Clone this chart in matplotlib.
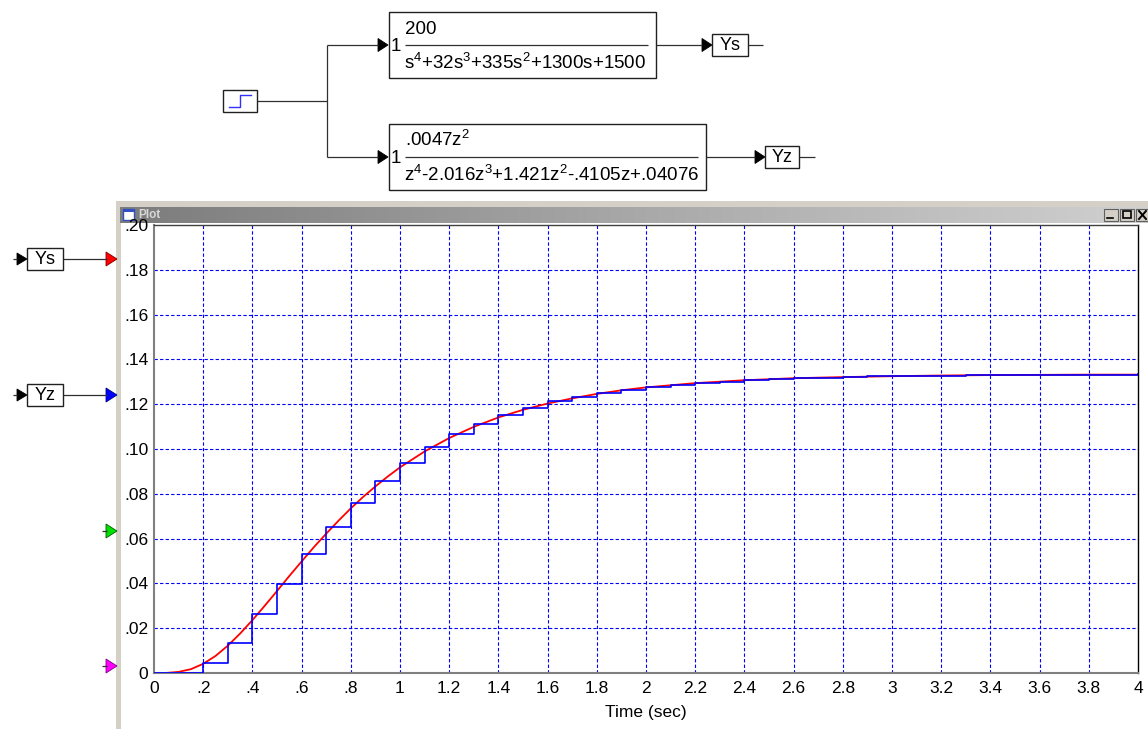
import numpy as np
import matplotlib
matplotlib.use("Agg")
import matplotlib.pyplot as plt
from matplotlib.patches import Rectangle, Polygon
from matplotlib.colors import LinearSegmentedColormap

plt.rcParams['font.family'] = ['Liberation Sans', 'DejaVu Sans']
plt.rcParams['mathtext.fontset'] = 'custom'
plt.rcParams['mathtext.rm'] = 'Liberation Sans'
plt.rcParams['mathtext.it'] = 'Liberation Sans:italic'

# continuous response Ys
t_s = [0.0, 0.05, 0.1, 0.15, 0.2, 0.25, 0.3, 0.35, 0.4, 0.45, 0.5, 0.55, 0.6, 0.65,
       0.7, 0.75, 0.8, 0.85, 0.9, 0.95, 1.0, 1.1, 1.2, 1.3, 1.4, 1.5, 1.6, 1.7,
       1.8, 1.9, 2.0, 2.2, 2.4, 2.6, 2.8, 3.0, 3.2, 3.4, 3.6, 3.8, 4.0]
ys = [0.0, 0.00003, 0.0005, 0.0017, 0.0041, 0.0076, 0.0122, 0.0176, 0.0236, 0.0300,
      0.0366, 0.0433, 0.0498, 0.0562, 0.0622, 0.0680, 0.0735, 0.0786, 0.0833, 0.0877,
      0.0918, 0.0989, 0.1049, 0.1099, 0.1141, 0.1175, 0.1203, 0.1226, 0.1246, 0.1262,
      0.1275, 0.1294, 0.1307, 0.1316, 0.1321, 0.1325, 0.1328, 0.1330, 0.1331, 0.1332, 0.1332]

# discrete response Yz, one sample every 0.1 s
t_z = np.round(np.arange(0, 4.01, 0.1), 1)
yz = [0.0, 0.0, 0.0043, 0.0135, 0.0262, 0.0397, 0.0531, 0.0653, 0.0760, 0.0858,
      0.0939, 0.1009, 0.1066, 0.1110, 0.1152, 0.1184, 0.1214, 0.1234, 0.1249, 0.1263,
      0.1278, 0.1286, 0.1293, 0.1300, 0.1306, 0.1311, 0.1315, 0.1318, 0.1321, 0.1324,
      0.1326, 0.1327, 0.1328, 0.1329, 0.1330, 0.1331, 0.1331, 0.1332, 0.1332, 0.1332, 0.1333]

x_ticks = [0, .2, .4, .6, .8, 1, 1.2, 1.4, 1.6, 1.8, 2, 2.2, 2.4, 2.6, 2.8, 3, 3.2,
           3.4, 3.6, 3.8, 4]
x_labels = ['0', '.2', '.4', '.6', '.8', '1', '1.2', '1.4', '1.6', '1.8', '2', '2.2',
            '2.4', '2.6', '2.8', '3', '3.2', '3.4', '3.6', '3.8', '4']
y_ticks = [0, .02, .04, .06, .08, .10, .12, .14, .16, .18, .20]
y_labels = ['0', '.02', '.04', '.06', '.08', '.10', '.12', '.14', '.16', '.18', '.20']

W, H = 1148, 729
fig = plt.figure(figsize=(W / 100, H / 100), dpi=100)
fig.patch.set_facecolor('white')

# overlay in pixel coords for the block diagram and window chrome
ov = fig.add_axes([0, 0, 1, 1], zorder=0)
ov.set_xlim(0, W)
ov.set_ylim(H, 0)
ov.axis('off')


def box(x0, y0, x1, y1, lw=1.0):
    ov.add_patch(Rectangle((x0, y0), x1 - x0, y1 - y0, fill=False, ec='#202020', lw=lw))


def line(xs, ys_, c='#303030', lw=0.9):
    ov.plot(xs, ys_, color=c, lw=lw, solid_capstyle='butt')


def tri(x0, y, c='black', w=10, h=13, ec=None):
    ov.add_patch(Polygon([(x0, y - h / 2), (x0 + w, y), (x0, y + h / 2)], closed=True,
                         fc=c, ec=ec if ec else c, lw=0.6))


fs = 12.5
fd = 13.5
# step source block
box(223, 90, 257, 112)
ov.plot([229, 240, 240, 251], [107, 107, 95, 95], color='#3030ff', lw=1.0)
line([257, 327], [101, 101])
line([327, 327], [45, 157])
line([327, 378], [45, 45])
line([327, 378], [157, 157])

# continuous transfer function
tri(378, 45)
box(389, 12, 656, 78)
ov.text(391, 46, '1', fontsize=fd, va='center', ha='left')
line([405, 648], [45, 45], lw=0.9)
ov.text(405, 29, '200', fontsize=fd, va='center', ha='left')
ov.text(404, 63, 's$^4$+32s$^3$+335s$^2$+1300s+1500', fontsize=fd, va='center', ha='left')
line([656, 702], [45, 45])
tri(702, 45)
box(712, 34, 748, 56)
ov.text(730, 45, 'Ys', fontsize=13, va='center', ha='center')
line([748, 763], [45, 45])

# discrete transfer function
tri(378, 157)
box(389, 124, 706, 190)
ov.text(391, 158, '1', fontsize=fd, va='center', ha='left')
line([405, 698], [157, 157], lw=0.9)
ov.text(405, 140, '.0047z$^2$', fontsize=fd, va='center', ha='left')
ov.text(404, 175, 'z$^4$-2.016z$^3$+1.421z$^2$-.4105z+.04076', fontsize=fd,
        va='center', ha='left')
line([706, 755], [157, 157])
tri(755, 157)
box(765, 146, 799, 168)
ov.text(782, 157, 'Yz', fontsize=13, va='center', ha='center')
line([799, 815], [157, 157])

# plot window chrome
ov.add_patch(Rectangle((116, 201), W - 116, H - 201, fc='#d4d0c8', ec='none'))
ov.add_patch(Rectangle((121, 223), W - 121, H - 223, fc='white', ec='none'))
cm = LinearSegmentedColormap.from_list('tb', ['#7c7c7c', '#a8a8a8', '#d0d0d0'])
ov.imshow(np.linspace(0, 1, 256)[None, :], extent=(120, W, 223, 207), cmap=cm,
          aspect='auto', zorder=1)
ov.set_xlim(0, W)
ov.set_ylim(H, 0)
ov.add_patch(Rectangle((123, 209), 11, 11, fc='white', ec='#3050c0', lw=1.0, zorder=2))
ov.add_patch(Rectangle((123, 209), 11, 2.5, fc='#3050c0', ec='none', zorder=2))
ov.text(138, 215, 'Plot', fontsize=8.5, fontweight='bold', color='#d8d8d8',
        va='center', ha='left', zorder=2)
for bx in [1104, 1120, 1136]:
    ov.add_patch(Rectangle((bx, 209), 14, 12, fc='#d4d0c8', ec='#606060', lw=0.8, zorder=2))
ov.add_patch(Rectangle((1123, 211), 8, 7, fill=False, ec='black', lw=1.2, zorder=3))
ov.plot([1107, 1113], [218, 218], color='black', lw=1.2, zorder=3)
ov.plot([1139, 1146], [211, 219], color='black', lw=1.4, zorder=3)
ov.plot([1139, 1146], [219, 211], color='black', lw=1.4, zorder=3)

# signal labels on the left
line([13, 17], [259, 259])
tri(17, 259, w=10, h=12)
box(27, 248, 63, 270)
ov.text(45, 259, 'Ys', fontsize=13, va='center', ha='center')
line([63, 107], [259, 259])
tri(106, 259, c='#ff0000', w=11, h=14, ec='#800000')

line([13, 17], [395, 395])
tri(17, 395, w=10, h=12)
box(27, 384, 63, 406)
ov.text(45, 395, 'Yz', fontsize=13, va='center', ha='center')
line([63, 107], [395, 395])
tri(106, 395, c='#0000ff', w=11, h=14, ec='#000080')

line([102, 107], [531, 531])
tri(106, 531, c='#00e000', w=11, h=14, ec='#006000')
line([102, 107], [666, 666])
tri(106, 666, c='#ff00ff', w=11, h=14, ec='#800080')

# the plot itself
ax = fig.add_axes([154 / W, (H - 673) / H, (1138 - 154) / W, (673 - 225) / H], zorder=2)
ax.set_facecolor('white')
for v in x_ticks[1:-1]:
    ax.axvline(v, color='#0000ff', lw=0.8, linestyle=(0, (3, 2)), zorder=1)
for v in y_ticks[1:-1]:
    ax.axhline(v, color='#0000ff', lw=0.8, linestyle=(0, (3, 2)), zorder=1)

ax.plot(t_s, ys, color='#ff0000', lw=1.3, zorder=2)
ax.step(t_z, yz, where='post', color='#0000ff', lw=1.2, zorder=3)

ax.set_xlim(0, 4)
ax.set_ylim(0, 0.2)
ax.set_xticks(x_ticks)
ax.set_xticklabels(x_labels, fontsize=fs)
ax.set_yticks(y_ticks)
ax.set_yticklabels(y_labels, fontsize=fs)
ax.tick_params(length=0, pad=4)
ax.tick_params(axis='x', pad=6)
ax.set_xlabel('Time (sec)', fontsize=fs, labelpad=6)

for s in ['left', 'bottom']:
    ax.spines[s].set_color('#808080')
    ax.spines[s].set_linewidth(1.5)
ax.spines['top'].set_color('#404040')
ax.spines['top'].set_linewidth(1.0)
ax.spines['right'].set_color('black')
ax.spines['right'].set_linewidth(1.0)

fig.savefig('out.png', dpi=100)
